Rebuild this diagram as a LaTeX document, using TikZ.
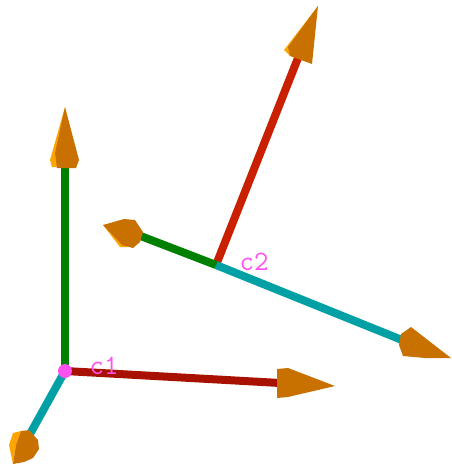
\documentclass[tikz,border=0pt]{standalone}
\usepackage{xcolor}
\usetikzlibrary{positioning,calc}
\definecolor{axisgreen}{RGB}{0, 128, 0}
\definecolor{axisdarkred}{RGB}{168, 16, 0}
\definecolor{axisred}{RGB}{200, 32, 0}
\definecolor{axisteal}{RGB}{0, 160, 165}
\definecolor{coneorange}{RGB}{200, 112, 0}
\definecolor{conelight}{RGB}{255, 165, 0}
\definecolor{framepink}{RGB}{255, 80, 240}

\begin{document}
\begin{tikzpicture}[x=0.75pt,y=-0.75pt,
    axisline/.style={line width=6pt},
    conebody/.style={fill=coneorange,draw=none},
    coneside/.style={fill=conelight,draw=none},
    framelabel/.style={text=framepink,font=\ttfamily\fontsize{21}{21}\selectfont,inner sep=0pt}]
    \useasboundingbox (0,0) rectangle (451,464);

    % Frame c1
    \coordinate (originA) at (65,371);
    \coordinate (upA) at (65,165);
    \coordinate (rightA) at (280,383);
    \coordinate (downA) at (30,434);
    \draw[axisline,axisgreen] (originA) -- (upA);
    \draw[axisline,axisdarkred] (originA) -- (rightA);
    \draw[axisline,axisteal] (originA) -- (downA);
    \fill[framepink] (originA) circle (7);
    \node[framelabel] (labelA) at (104,366) {c1};

    % Cones of frame c1
    \fill[coneside] (65,107) -- (50,160) -- (52,167) -- (58,167) -- cycle;
    \fill[conebody] (65,107) -- (55,153) -- (57,168) -- (76,168) -- (79,160) -- cycle;
    \fill[conebody] (277,369) -- (288,368) -- (335,386) -- (288,397) -- (277,398) -- cycle;
    \fill[coneside] (13,464) -- (9,445) -- (13,433) -- (21,431) -- (16,445) -- cycle;
    \fill[conebody] (13,464) -- (16,445) -- (21,431) -- (29,430) -- (38,440) -- (39,449) -- (33,458) -- (24,462) -- cycle;

    % Frame c2
    \coordinate (originB) at (216,265);
    \coordinate (upB) at (298,58);
    \coordinate (leftB) at (138,235);
    \coordinate (rightB) at (402,340);
    \draw[axisline,axisred] (originB) -- (upB);
    \draw[axisline,axisteal] (originB) -- (rightB);
    \draw[axisline,axisgreen] (originB) -- (leftB);
    \node[framelabel] (labelB) at (254,262) {c2};

    % Cones of frame c2
    \fill[coneside] (318,6) -- (284,50) -- (290,56) -- cycle;
    \fill[conebody] (318,6) -- (288,47) -- (290,56) -- (312,64) -- cycle;
    \fill[coneside] (103,225) -- (120,247) -- (128,247) -- cycle;
    \fill[conebody] (103,225) -- (124,219) -- (135,220) -- (143,232) -- (140,242) -- (133,248) -- (122,245) -- cycle;
    \fill[conebody] (411,327) -- (451,358) -- (425,358) -- (403,356) -- (399,345) -- (401,334) -- cycle;
\end{tikzpicture}
\end{document}
